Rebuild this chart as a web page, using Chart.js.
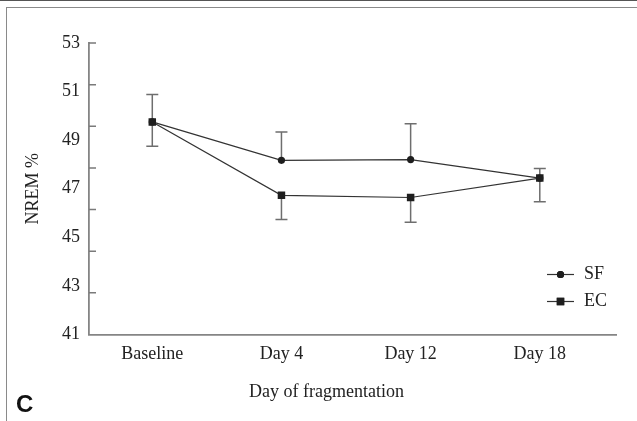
<!DOCTYPE html>
<html>
<head>
<meta charset="utf-8">
<script src="https://cdn.jsdelivr.net/npm/chart.js@4"></script>
<style>
  html, body { margin: 0; padding: 0; background: #fff; }
  #wrap { position: relative; width: 637px; height: 421px; overflow: hidden; background: #fff; }
  #topline { position: absolute; left: 0; top: 0; width: 637px; height: 1px; background: #555; }
  #frame { position: absolute; left: 6px; top: 7px; width: 640px; height: 420px;
           border-left: 1.5px solid #8a8a8a; border-top: 1.5px solid #8a8a8a; }
  #panel { position: absolute; left: 16px; top: 390px; font: bold 24px "Liberation Sans", Arial, sans-serif; color: #111; }
  canvas { position: absolute; left: 0; top: 0; }
</style>
</head>
<body>
<div id="wrap">
  <div id="topline"></div>
  <div id="frame"></div>
  <canvas id="c" width="637" height="421"></canvas>
  <div id="panel">C</div>
</div>
<script>
// ---- data ----
const categories = ['Baseline', 'Day 4', 'Day 12', 'Day 18'];
const sfValues = [49.75, 48.17, 48.20, 47.44];
const ecValues = [49.75, 46.73, 46.64, 47.44];
const sfErrUp = [1.13, 1.17, 1.48, 0.39];
const ecErrDown = [1.00, 1.00, 1.02, 0.98];
const yTickValues = [41, 43, 45, 47, 49, 51, 53];
const yMarkValues = [1, 2, 3, 4, 5, 6, 7];
const xTitle = 'Day of fragmentation';
const yTitle = 'NREM %';

const xPositions = categories.map((c, i) => i);

const errorBarPlugin = {
  id: 'errorBars',
  beforeDatasetsDraw(chart) {
    const ctx = chart.ctx, x = chart.scales.x, y = chart.scales.y;
    ctx.save();
    ctx.strokeStyle = '#6e6e6e';
    ctx.lineWidth = 1.5;
    const cap = 6;
    xPositions.forEach((xi, i) => {
      const px = x.getPixelForValue(xi);
      const s0 = y.getPixelForValue(sfValues[i]);
      const s1 = y.getPixelForValue(sfValues[i] + sfErrUp[i]);
      const e0 = y.getPixelForValue(ecValues[i]);
      const e1 = y.getPixelForValue(ecValues[i] - ecErrDown[i]);
      ctx.beginPath();
      ctx.moveTo(px, s0); ctx.lineTo(px, s1);
      ctx.moveTo(px - cap, s1); ctx.lineTo(px + cap, s1);
      ctx.moveTo(px, e0); ctx.lineTo(px, e1);
      ctx.moveTo(px - cap, e1); ctx.lineTo(px + cap, e1);
      ctx.stroke();
    });
    ctx.restore();
  }
};

const tickMarkPlugin = {
  id: 'innerTicks',
  afterDraw(chart) {
    const ctx = chart.ctx, m = chart.scales.yMarks, area = chart.chartArea;
    ctx.save();
    ctx.strokeStyle = '#7a7a7a';
    ctx.lineWidth = 1.5;
    ctx.beginPath();
    yMarkValues.forEach(v => {
      const py = m.getPixelForValue(v);
      ctx.moveTo(area.left, py);
      ctx.lineTo(area.left + 7, py);
    });
    ctx.stroke();
    // x axis title, centred a little left of the plot centre as in the original
    ctx.fillStyle = '#222';
    ctx.font = '18px "Liberation Serif", serif';
    ctx.textAlign = 'center';
    ctx.textBaseline = 'middle';
    ctx.fillText(xTitle, (area.left + area.right) / 2 - 26, area.bottom + 58);
    ctx.restore();
  }
};

const legendPlugin = {
  id: 'insideLegend',
  afterDraw(chart) {
    const ctx = chart.ctx, area = chart.chartArea;
    const rows = [chart.data.datasets[1], chart.data.datasets[0]];
    ctx.save();
    rows.forEach((ds, k) => {
      const yy = area.bottom - 60 + k * 27;
      ctx.strokeStyle = ds.borderColor;
      ctx.lineWidth = ds.borderWidth;
      ctx.beginPath();
      ctx.moveTo(area.right - 69, yy);
      ctx.lineTo(area.right - 42, yy);
      ctx.stroke();
      Chart.helpers.drawPoint(ctx, {
        pointStyle: ds.pointStyle, radius: ds.pointRadius, borderWidth: 0
      }, area.right - 55.5, yy);
      ctx.fillStyle = ds.pointBackgroundColor;
      ctx.fill();
      ctx.fillStyle = '#222';
      ctx.font = '18px "Liberation Serif", serif';
      ctx.textBaseline = 'middle';
      ctx.textAlign = 'left';
      ctx.fillText(ds.label, area.right - 32, yy);
    });
    ctx.restore();
  }
};

Chart.defaults.font.family = '"Liberation Serif", "DejaVu Serif", serif';
Chart.defaults.font.size = 18;
Chart.defaults.color = '#222';

new Chart(document.getElementById('c'), {
  type: 'line',
  data: {
    datasets: [
      {
        label: 'EC',
        data: xPositions.map((xi, i) => ({ x: xi, y: ecValues[i] })),
        borderColor: '#333', borderWidth: 1.2,
        pointStyle: 'rect', pointRadius: 5.3,
        pointBackgroundColor: '#1e1e1e', pointBorderWidth: 0,
        order: 0
      },
      {
        label: 'SF',
        data: xPositions.map((xi, i) => ({ x: xi, y: sfValues[i] })),
        borderColor: '#333', borderWidth: 1.2,
        pointStyle: 'circle', pointRadius: 3.6,
        pointBackgroundColor: '#1e1e1e', pointBorderWidth: 0,
        order: 1
      }
    ]
  },
  options: {
    responsive: false,
    animation: false,
    layout: { padding: { top: 43, right: 21, left: 0, bottom: 0 } },
    plugins: { legend: { display: false }, tooltip: { enabled: false } },
    scales: {
      x: {
        type: 'linear',
        min: -0.49, max: 3.59,
        afterBuildTicks: (s) => { s.ticks = xPositions.map(v => ({ value: v })); },
        afterFit: (s) => { s.height = 86.5; },
        ticks: { callback: (v) => categories[v], padding: 9, maxRotation: 0 },
        grid: { display: false, drawTicks: false },
        border: { display: true, color: '#858585', width: 1.8 },
        title: { display: false }
      },
      y: {
        type: 'linear',
        min: 41, max: 53,
        afterBuildTicks: (s) => { s.ticks = yTickValues.map(v => ({ value: v })); },
        afterFit: (s) => { s.width = 89; },
        ticks: { padding: 9 },
        grid: { display: false, drawTicks: false },
        border: { display: true, color: '#858585', width: 1.8 },
        title: { display: true, text: yTitle, padding: { top: 22, bottom: 0 } }
      },
      yMarks: {
        type: 'linear', display: false, position: 'left', min: 0, max: 7
      }
    }
  },
  plugins: [errorBarPlugin, tickMarkPlugin, legendPlugin]
});
</script>
</body>
</html>
